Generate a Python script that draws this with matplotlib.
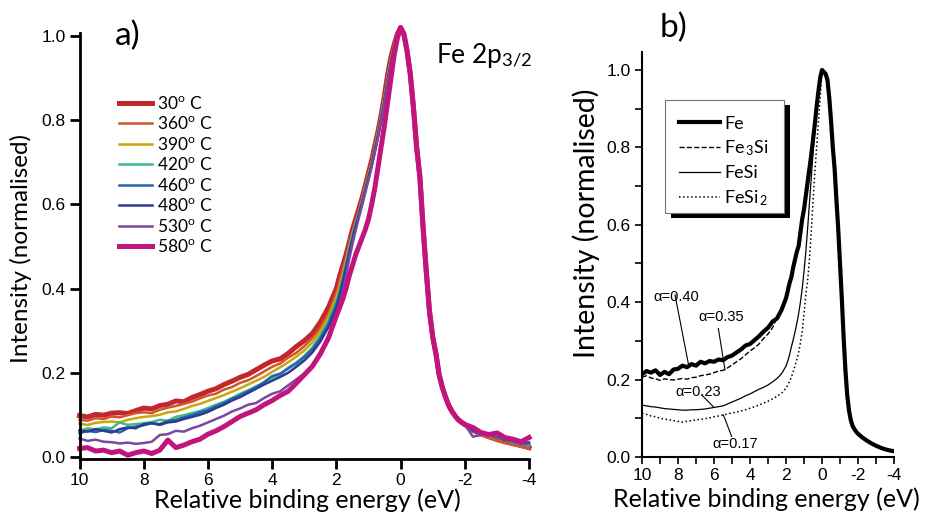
import numpy as np
import matplotlib
matplotlib.use('Agg')
import matplotlib.pyplot as plt
from matplotlib.patches import Rectangle
from matplotlib.ticker import MultipleLocator

plt.rcParams['font.family'] = 'Lato'
plt.rcParams['mathtext.fontset'] = 'custom'
plt.rcParams['mathtext.rm'] = 'Lato'
plt.rcParams['mathtext.it'] = 'Lato:italic'
plt.rcParams['axes.unicode_minus'] = False

# relative binding energy grid (eV), finer across the peak
energy = np.concatenate([np.arange(10, 2.2, -0.25), np.arange(2.0, 0.05, -0.1),
                         np.arange(0.0, -2.05, -0.1), np.arange(-2.25, -4.05, -0.25)])

# ---- a) Fe 2p3/2 vs anneal temperature ----
temps = ['30', '360', '390', '420', '460', '480', '530', '580']
colors_a = ['#c1272d', '#d4532b', '#c9a60a', '#3dbb84', '#2462b0', '#2e3a92', '#7b479f', '#c2147e']
widths_a = [3.6, 1.8, 1.8, 1.8, 1.8, 1.8, 1.8, 3.6]

# background side, 10 -> 2.25 eV
left_30 = [0.098, 0.095, 0.101, 0.099, 0.104, 0.105, 0.103, 0.110, 0.116, 0.114, 0.122, 0.125,
           0.133, 0.131, 0.141, 0.148, 0.156, 0.162, 0.172, 0.180, 0.189, 0.196, 0.207, 0.218,
           0.228, 0.233, 0.246, 0.262, 0.276, 0.293, 0.320, 0.355]
left_360 = [0.088, 0.086, 0.092, 0.090, 0.096, 0.094, 0.099, 0.104, 0.106, 0.104, 0.112, 0.117,
            0.121, 0.126, 0.131, 0.139, 0.146, 0.150, 0.160, 0.166, 0.176, 0.182, 0.192, 0.203,
            0.214, 0.222, 0.236, 0.247, 0.263, 0.282, 0.307, 0.340]
left_390 = [0.079, 0.076, 0.081, 0.083, 0.084, 0.082, 0.088, 0.092, 0.095, 0.097, 0.100, 0.106,
            0.108, 0.114, 0.121, 0.126, 0.133, 0.140, 0.147, 0.155, 0.163, 0.172, 0.181, 0.190,
            0.202, 0.213, 0.225, 0.238, 0.253, 0.272, 0.298, 0.332]
left_420 = [0.062, 0.068, 0.065, 0.070, 0.068, 0.082, 0.076, 0.078, 0.080, 0.083, 0.088, 0.086,
            0.095, 0.099, 0.104, 0.109, 0.116, 0.124, 0.131, 0.140, 0.150, 0.158, 0.168, 0.176,
            0.188, 0.195, 0.212, 0.224, 0.240, 0.260, 0.288, 0.322]
left_460 = [0.056, 0.062, 0.059, 0.064, 0.062, 0.058, 0.068, 0.072, 0.075, 0.080, 0.078, 0.085,
            0.088, 0.094, 0.099, 0.106, 0.111, 0.120, 0.128, 0.138, 0.146, 0.156, 0.165, 0.178,
            0.192, 0.198, 0.210, 0.222, 0.237, 0.255, 0.282, 0.315]
left_480 = [0.063, 0.060, 0.066, 0.062, 0.058, 0.066, 0.070, 0.068, 0.078, 0.080, 0.076, 0.082,
            0.084, 0.090, 0.095, 0.100, 0.107, 0.116, 0.124, 0.134, 0.142, 0.152, 0.162, 0.172,
            0.181, 0.190, 0.200, 0.214, 0.229, 0.248, 0.274, 0.308]
left_530 = [0.044, 0.038, 0.041, 0.036, 0.035, 0.032, 0.034, 0.031, 0.033, 0.036, 0.052, 0.054,
            0.062, 0.060, 0.068, 0.074, 0.082, 0.090, 0.098, 0.108, 0.115, 0.124, 0.128, 0.140,
            0.150, 0.156, 0.170, 0.184, 0.198, 0.218, 0.240, 0.280]
left_580 = [0.020, 0.022, 0.014, 0.016, 0.010, 0.014, 0.004, 0.010, 0.014, 0.008, 0.016, 0.040,
            0.022, 0.028, 0.036, 0.042, 0.054, 0.062, 0.072, 0.084, 0.096, 0.104, 0.112, 0.124,
            0.134, 0.146, 0.156, 0.175, 0.195, 0.215, 0.245, 0.282]

# rising edge, 2.0 -> 0.1 eV
mid_30 = [0.400, 0.430, 0.455, 0.480, 0.510, 0.540, 0.565, 0.590, 0.615, 0.645, 0.675, 0.705,
          0.740, 0.775, 0.815, 0.860, 0.910, 0.950, 0.980, 1.005]
mid_360 = [0.390, 0.418, 0.445, 0.474, 0.505, 0.535, 0.560, 0.585, 0.612, 0.642, 0.672, 0.703,
           0.738, 0.775, 0.815, 0.858, 0.905, 0.948, 0.978, 1.005]
mid_390 = [0.380, 0.405, 0.435, 0.466, 0.500, 0.530, 0.557, 0.582, 0.610, 0.640, 0.670, 0.700,
           0.735, 0.772, 0.813, 0.856, 0.903, 0.947, 0.978, 1.006]
mid_420 = [0.370, 0.395, 0.427, 0.460, 0.495, 0.527, 0.555, 0.580, 0.607, 0.637, 0.667, 0.698,
           0.732, 0.768, 0.808, 0.850, 0.897, 0.940, 0.975, 1.005]
mid_460 = [0.362, 0.388, 0.420, 0.453, 0.488, 0.520, 0.550, 0.577, 0.604, 0.634, 0.664, 0.695,
           0.730, 0.766, 0.806, 0.848, 0.895, 0.940, 0.975, 1.004]
mid_480 = [0.352, 0.380, 0.412, 0.446, 0.482, 0.515, 0.546, 0.574, 0.602, 0.632, 0.662, 0.693,
           0.728, 0.764, 0.804, 0.846, 0.893, 0.938, 0.974, 1.004]
mid_530 = [0.330, 0.360, 0.392, 0.430, 0.470, 0.505, 0.538, 0.568, 0.597, 0.628, 0.658, 0.690,
           0.725, 0.762, 0.802, 0.845, 0.892, 0.937, 0.973, 1.003]
mid_580 = [0.335, 0.355, 0.375, 0.400, 0.430, 0.455, 0.480, 0.500, 0.520, 0.540, 0.565, 0.600,
           0.640, 0.690, 0.740, 0.790, 0.845, 0.900, 0.955, 0.995]

# peak top and falling edge, 0.0 -> -2.0 eV (all temperatures overlap here)
peak_a = [1.020, 1.005, 0.965, 0.910, 0.830, 0.735, 0.665, 0.545, 0.440, 0.345, 0.285, 0.245,
          0.195, 0.165, 0.142, 0.122, 0.108, 0.097, 0.088, 0.082, 0.077]

# tail, -2.25 -> -4.0 eV
tail_30 = [0.063, 0.055, 0.048, 0.042, 0.036, 0.032, 0.027, 0.022]
tail_360 = [0.060, 0.052, 0.045, 0.038, 0.033, 0.028, 0.024, 0.019]
tail_390 = [0.064, 0.056, 0.050, 0.044, 0.040, 0.036, 0.031, 0.028]
tail_420 = [0.066, 0.058, 0.050, 0.046, 0.041, 0.034, 0.030, 0.026]
tail_460 = [0.062, 0.054, 0.051, 0.046, 0.040, 0.037, 0.033, 0.032]
tail_480 = [0.064, 0.057, 0.052, 0.047, 0.042, 0.038, 0.032, 0.034]
tail_530 = [0.048, 0.052, 0.055, 0.045, 0.043, 0.036, 0.030, 0.030]
tail_580 = [0.070, 0.058, 0.053, 0.057, 0.046, 0.042, 0.036, 0.046]

lefts = [left_30, left_360, left_390, left_420, left_460, left_480, left_530, left_580]
mids = [mid_30, mid_360, mid_390, mid_420, mid_460, mid_480, mid_530, mid_580]
tails = [tail_30, tail_360, tail_390, tail_420, tail_460, tail_480, tail_530, tail_580]

# ---- b) reference silicides ----
compounds = ['Fe', 'Fe$_{\\,\\mathrm{3}}$Si', 'FeSi', 'FeSi$_{\\,\\mathrm{2}}$']
styles_b = [('-', 3.0), ('--', 1.0), ('-', 0.9), (':', 1.1)]

fe_left = [0.214, 0.222, 0.218, 0.224, 0.212, 0.220, 0.214, 0.226, 0.228, 0.236, 0.232, 0.240,
           0.236, 0.246, 0.242, 0.248, 0.246, 0.252, 0.250, 0.258, 0.262, 0.270, 0.278, 0.288,
           0.292, 0.302, 0.312, 0.324, 0.334, 0.350, 0.358, 0.380]
fe3si_left = [0.206, 0.210, 0.204, 0.202, 0.198, 0.202, 0.200, 0.199, 0.201, 0.203, 0.201, 0.205,
              0.206, 0.210, 0.212, 0.214, 0.218, 0.222, 0.224, 0.230, 0.238, 0.246, 0.254, 0.264,
              0.274, 0.282, 0.292, 0.306, 0.318, 0.334, 0.360, 0.385]
fesi_left = [0.134, 0.132, 0.130, 0.129, 0.127, 0.125, 0.124, 0.123, 0.122, 0.121, 0.121, 0.122,
             0.122, 0.123, 0.124, 0.126, 0.128, 0.130, 0.132, 0.137, 0.142, 0.147, 0.152, 0.158,
             0.163, 0.169, 0.175, 0.180, 0.186, 0.194, 0.203, 0.215]
fesi2_left = [0.113, 0.110, 0.106, 0.104, 0.100, 0.098, 0.096, 0.094, 0.092, 0.090, 0.092, 0.094,
              0.096, 0.097, 0.099, 0.101, 0.104, 0.106, 0.108, 0.111, 0.114, 0.116, 0.119, 0.122,
              0.126, 0.130, 0.134, 0.139, 0.144, 0.150, 0.157, 0.165]

fe_mid = [0.410, 0.430, 0.450, 0.465, 0.490, 0.510, 0.530, 0.545, 0.580, 0.615, 0.640, 0.675,
          0.710, 0.745, 0.780, 0.820, 0.860, 0.905, 0.945, 0.980]
fe3si_mid = [0.405, 0.425, 0.445, 0.462, 0.485, 0.505, 0.525, 0.545, 0.575, 0.605, 0.635, 0.670,
             0.705, 0.740, 0.775, 0.815, 0.855, 0.900, 0.940, 0.975]
fesi_mid = [0.235, 0.248, 0.265, 0.285, 0.303, 0.323, 0.345, 0.370, 0.400, 0.435, 0.480, 0.530,
            0.590, 0.655, 0.720, 0.785, 0.840, 0.890, 0.935, 0.970]
fesi2_mid = [0.178, 0.186, 0.196, 0.207, 0.220, 0.235, 0.252, 0.270, 0.295, 0.325, 0.370, 0.420,
             0.455, 0.510, 0.580, 0.660, 0.735, 0.800, 0.865, 0.930]

# shared peak and tail for b, 0.0 -> -4.0 eV
peak_b = [1.000, 0.995, 0.990, 0.975, 0.930, 0.870, 0.800, 0.745, 0.665, 0.590, 0.500, 0.410,
          0.310, 0.225, 0.160, 0.120, 0.095, 0.080, 0.072, 0.065, 0.060]
tail_b = [0.050, 0.042, 0.035, 0.029, 0.024, 0.020, 0.017, 0.015]

lefts_b = [fe_left, fe3si_left, fesi_left, fesi2_left]
mids_b = [fe_mid, fe3si_mid, fesi_mid, fesi2_mid]

# asymmetry parameters written next to the curves: (label, text pos, leader start, leader end)
alpha_notes = [('\u03b1=0.40', (8.11, 0.414), (8.17, 0.419), (7.43, 0.242)),
               ('\u03b1=0.35', (5.61, 0.362), (5.76, 0.332), (5.39, 0.225)),
               ('\u03b1=0.23', (6.89, 0.168), (6.68, 0.160), (6.04, 0.130)),
               ('\u03b1=0.17', (4.83, 0.034), (5.02, 0.053), (5.48, 0.109))]

fig = plt.figure(figsize=(9.27, 5.19), dpi=100)
ax_a = fig.add_axes([0.0858, 0.1156, 0.4849, 0.8208])
ax_b = fig.add_axes([0.6926, 0.1195, 0.2718, 0.7803])

for t, c, w, l, m, tl in zip(temps, colors_a, widths_a, lefts, mids, tails):
    y = np.concatenate([l, m, peak_a, tl])
    ax_a.plot(energy, y, color=c, lw=w, solid_joinstyle='round', clip_on=False,
              label=t + '$^{\\mathrm{o}}$ C')

ax_a.set_xlim(10, -4)
ax_a.set_ylim(-0.005, 1.007)
ax_a.set_xticks([10, 8, 6, 4, 2, 0, -2, -4])
ax_a.set_yticks([0.0, 0.2, 0.4, 0.6, 0.8, 1.0])
ax_a.set_yticklabels(['0.0', '0.2', '0.4', '0.6', '0.8', '1.0'])
for s in ['top', 'right']:
    ax_a.spines[s].set_visible(False)
for s in ['left', 'bottom']:
    ax_a.spines[s].set_linewidth(2)
ax_a.tick_params(direction='out', length=7, width=2, pad=3, labelsize=12.5)
for lab in ax_a.get_xticklabels() + ax_a.get_yticklabels():
    lab.set_family('Liberation Sans')
ax_a.set_xlabel('Relative binding energy (eV)', fontsize=18)
ax_a.set_ylabel('Intensity (normalised)', fontsize=17.5)
ax_a.xaxis.set_label_coords(0.506, -0.068)
ax_a.yaxis.set_label_coords(-0.106, 0.495)
ax_a.legend(loc='upper left', bbox_to_anchor=(0.068, 0.875), frameon=False, fontsize=12.5,
            handlelength=1.9, handletextpad=0.3, labelspacing=0.2, borderpad=0)

for name, (ls, lw), l, m in zip(compounds, styles_b, lefts_b, mids_b):
    y = np.concatenate([l, m, peak_b, tail_b])
    ax_b.plot(energy, y, color='black', ls=ls, lw=lw, label=name, zorder=3 if name == 'Fe' else 2)

ax_b.set_xlim(10, -4)
ax_b.set_ylim(0, 1.0465)
ax_b.xaxis.set_major_locator(MultipleLocator(2))
ax_b.xaxis.set_minor_locator(MultipleLocator(1))
ax_b.yaxis.set_major_locator(MultipleLocator(0.2))
ax_b.yaxis.set_minor_locator(MultipleLocator(0.1))
ax_b.set_yticks([0.0, 0.2, 0.4, 0.6, 0.8, 1.0])
ax_b.set_yticklabels(['0.0', '0.2', '0.4', '0.6', '0.8', '1.0'])
for s in ['top', 'right']:
    ax_b.spines[s].set_visible(False)
for s in ['left', 'bottom']:
    ax_b.spines[s].set_linewidth(1.5)
ax_b.tick_params(which='both', direction='out', length=5, width=1.2, pad=3, labelsize=12.5)
for lab in ax_b.get_xticklabels() + ax_b.get_yticklabels():
    lab.set_family('Liberation Sans')
ax_b.set_xlabel('Relative binding energy (eV)', fontsize=18)
ax_b.set_ylabel('Intensity (normalised)', fontsize=20.5)
ax_b.xaxis.set_label_coords(0.492, -0.075)
ax_b.yaxis.set_label_coords(-0.165, 0.578)

# legend box with a solid drop shadow
ax_b.add_patch(Rectangle((0.115, 0.590), 0.472, 0.279, transform=ax_b.transAxes,
                         facecolor='black', edgecolor='none', zorder=4))
ax_b.add_patch(Rectangle((0.091, 0.602), 0.472, 0.279, transform=ax_b.transAxes,
                         facecolor='white', edgecolor='#777777', lw=0.8, zorder=5))
leg = ax_b.legend(loc='upper left', bbox_to_anchor=(0.11, 0.865), frameon=False, fontsize=13,
                  handlelength=2.3, handletextpad=0.2, labelspacing=0.38, borderpad=0)
leg.set_zorder(6)

for txt, tpos, p0, p1 in alpha_notes:
    ax_b.plot([p0[0], p1[0]], [p0[1], p1[1]], color='black', lw=0.8, zorder=4)
    ax_b.text(tpos[0], tpos[1], txt, ha='center', va='center', fontsize=10.5,
              family='Liberation Sans', zorder=4)

fig.text(115 / 927, 1 - 36 / 519, 'a)', fontsize=24, va='center', ha='left')
fig.text(660 / 927, 1 - 28 / 519, 'b)', fontsize=24, va='center', ha='left')
fig.text(436 / 927, 1 - 63 / 519, 'Fe 2p$_{\\mathrm{3/2}}$', fontsize=19, va='baseline', ha='left')

fig.savefig('out.png', dpi=100)
